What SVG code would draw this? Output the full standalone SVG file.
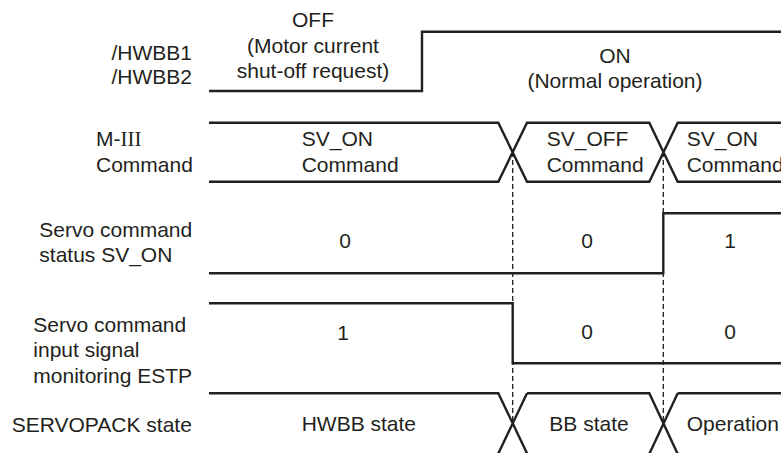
<svg xmlns="http://www.w3.org/2000/svg" width="781" height="453" viewBox="0 0 781 453">
<style>
text{font-family:"Liberation Sans",Arial,sans-serif;font-size:21px;fill:#231f20}
.c{text-anchor:middle}
.w{fill:none;stroke:#231f20;stroke-width:2.4;stroke-linejoin:miter}
.d{fill:none;stroke:#231f20;stroke-width:1.3;stroke-dasharray:5 3}
.r{font-family:"Liberation Serif","Times New Roman",serif}
</style>
<rect width="781" height="453" fill="#fff"/>
<g id="labels">
<text x="111.5" y="60">/HWBB1</text>
<text x="111.5" y="84">/HWBB2</text>
<text x="96" y="146">M-<tspan class="r">III</tspan></text>
<text x="96" y="171.7">Command</text>
<text x="39.3" y="236.7">Servo command</text>
<text x="39.3" y="261.7">status SV_ON</text>
<text x="33.3" y="331.7">Servo command</text>
<text x="33.3" y="357">input signal</text>
<text x="33.3" y="382.5">monitoring ESTP</text>
<text x="11.7" y="431.5">SERVOPACK state</text>
</g>
<g id="connectors">
<path class="d" d="M512.7,152V424M663.3,152V424"/>
</g>
<g id="hwbb">
<path class="w" d="M209,91H422V31.7H781"/>
<text class="c" x="313" y="27">OFF</text>
<text class="c" x="313" y="52.5">(Motor current</text>
<text class="c" x="313" y="78">shut-off request)</text>
<text class="c" x="615" y="63">ON</text>
<text class="c" x="615" y="88">(Normal operation)</text>
</g>
<g id="command">
<path class="w" d="M209,122.7H498.3L527,181.7H649.3L677.7,122.7H781M209,181.7H498.3L527,122.7H649.3L677.7,181.7H781"/>
<text x="301.7" y="146">SV_ON</text>
<text x="301.7" y="171.7">Command</text>
<text x="546.7" y="146">SV_OFF</text>
<text x="546.7" y="171.7">Command</text>
<text x="686.7" y="146">SV_ON</text>
<text x="686.7" y="171.7">Command</text>
</g>
<g id="svon">
<path class="w" d="M209,273.3H663.3V213.3H781"/>
<text class="c" x="345" y="248">0</text>
<text class="c" x="587" y="248">0</text>
<text class="c" x="730" y="248">1</text>
</g>
<g id="estp">
<path class="w" d="M209,303.3H512.7V363.3H781"/>
<text class="c" x="343" y="339.5">1</text>
<text class="c" x="587" y="338.5">0</text>
<text class="c" x="730" y="338.5">0</text>
</g>
<g id="servopack">
<path class="w" d="M209,393.3H498.3L527.8,455M527,393.3H649.3L678.2,455M527,393.3L497.6,455M677.7,393.3L648.8,455M677.7,393.3H781"/>
<text x="301.7" y="431">HWBB state</text>
<text x="549.3" y="431">BB state</text>
<text x="686.7" y="431">Operation</text>
</g>
</svg>
